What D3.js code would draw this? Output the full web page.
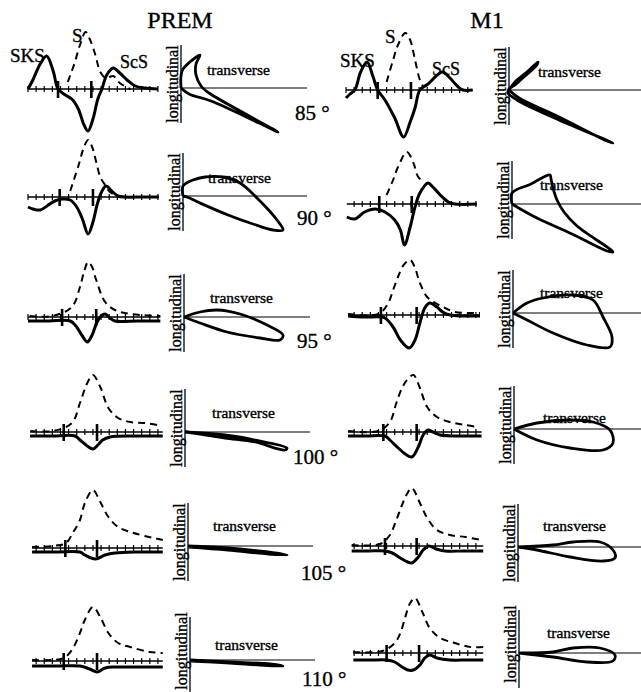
<!DOCTYPE html>
<html>
<head>
<meta charset="utf-8">
<script src="https://cdn.jsdelivr.net/npm/d3@7"></script>
<style>
body { margin: 0; background: #fff; }
text { font-family: "Liberation Serif", "Times New Roman", serif; fill: #000; stroke: #000; stroke-width: 0.35px; }
</style>
</head>
<body>
<div id="fig"></div>
<script>
// models, distances and phase names
const models = ["PREM", "M1"];
const distances = [85, 90, 95, 100, 105, 110];
const phaseLabels = ["SKS", "S", "ScS"];

// seismograms: [time (tick units), amplitude], one array per distance
const premLong = [
  [[0,0],[0.6,9],[1.5,25],[2.3,33],[3.1,18],[3.7,0],[4.6,-6],[5.4,-10],[6.2,-20],[6.9,-36],[7.4,-42],[8.0,-30],[8.6,-10],[9.1,0],[9.7,14],[10.5,21],[11.3,16],[12.2,9],[13.2,3],[14.4,1],[16,0]],
  [[0,-10],[0.6,-12],[1.5,-13],[2.5,-8],[3.3,-4],[4.2,-2],[5.2,-3],[6.0,-10],[6.7,-22],[7.4,-37],[8.0,-25],[8.5,-8],[9.0,4],[9.6,11],[10.3,6],[11.1,1],[11.9,0],[14,0],[16.1,0]],
  [[0,-4],[2.6,-4],[5.2,-4],[5.9,-9],[6.7,-19],[7.3,-25],[7.9,-18],[8.5,-5],[9.0,1],[9.5,3],[10.1,-1],[10.7,-4],[13.5,-4],[16.3,-4]],
  [[0.25,-4],[3,-4],[5.8,-4],[6.4,-8],[7.3,-14],[8.0,-17],[8.6,-13],[9.2,-8],[10.1,-5],[13,-4],[16.6,-4]],
  [[0.5,-4],[3.5,-4],[6.4,-4],[7.0,-7],[8.3,-11],[9.5,-7],[10.7,-5],[13.5,-4],[16.6,-4]],
  [[0.5,-5],[3.5,-5],[6.4,-5],[7.6,-8],[8.5,-11],[9.5,-7],[10.7,-6],[13.5,-6],[16.6,-6]]
];
const premTrans = [
  [[4.9,7],[5.7,25],[6.4,44],[7.1,57],[7.6,50],[8.3,34],[8.9,17],[9.6,11],[10.5,13],[11.3,6],[12.6,0]],
  [[5.2,6],[6.2,31],[6.9,50],[7.4,57],[7.9,50],[8.4,35],[8.9,20],[9.5,12],[10.1,5],[11.1,1],[13.5,0],[16.1,0]],
  [[0.2,1],[3,1],[5.4,10],[6.4,30],[6.9,45],[7.4,55],[7.9,50],[8.4,37],[9.5,15],[10.7,7],[11.9,4],[13.8,2],[16.3,1]],
  [[0.3,1],[3,1],[5.4,9],[6.4,29],[7.3,49],[8.0,57],[8.9,45],[9.9,24],[11.1,14],[12.6,10],[14.4,9],[15.9,7]],
  [[0.5,1],[3,2],[4.7,5],[5.5,15],[6.4,28],[7.0,45],[8.0,58],[8.9,46],[9.9,31],[11.1,21],[12.6,16],[14.4,12],[16.6,8]],
  [[0.5,1],[3,1],[4.4,3],[5.4,11],[6.4,28],[7.0,41],[8.0,54],[8.9,44],[9.9,28],[11.1,18],[12.6,14],[15.0,9],[16.6,8]]
];
const m1Long = [
  [[0,-8],[0.5,-4],[1.1,0],[1.8,18],[2.6,28],[3.3,14],[3.9,0],[4.8,-10],[6.0,-28],[7.1,-47],[7.9,-32],[8.5,-18],[9.1,0],[10.1,6],[11.1,14],[11.9,18],[12.8,12],[13.7,4],[14.4,0],[15.6,0]],
  [[0.1,-13],[1.1,-15],[2.3,-8],[3.6,-5],[4.8,-8],[6.0,-16],[6.7,-26],[7.2,-41],[7.9,-23],[8.5,-3],[9.1,11],[10.1,21],[10.7,17],[11.6,9],[12.6,2],[13.4,0],[16.1,0]],
  [[0.25,-1],[2.2,-2],[4.2,-2],[4.8,-3],[5.8,-12],[6.7,-25],[7.8,-33],[8.5,-25],[9.1,-8],[9.7,7],[10.3,12],[11.2,8],[11.9,3],[12.8,0],[14.5,-1],[16.5,-1]],
  [[0.25,-4],[2.5,-4],[4.8,-4],[5.4,-8],[6.3,-15],[7.3,-22],[8.1,-25],[8.9,-15],[9.5,-3],[10.1,2],[10.7,0],[11.6,-3],[14,-4],[16.7,-4]],
  [[0.7,-5],[2.8,-5],[4.8,-5],[5.7,-7],[6.7,-12],[7.6,-16],[8.1,-17],[8.9,-11],[9.5,-4],[10.2,0],[11.1,-3],[12.2,-5],[14.5,-5],[16.9,-5]],
  [[0.9,-7],[3,-7],[5.0,-7],[6.0,-9],[6.9,-14],[7.6,-17],[8.3,-17],[9.1,-12],[9.7,-5],[10.3,-2],[11.2,-5],[12.8,-7],[15,-7],[16.9,-7]]
];
const m1Trans = [
  [[5.0,8],[5.8,30],[6.4,45],[7.3,57],[7.9,50],[8.5,30],[9.1,10],[9.6,2]],
  [[5.0,9],[5.8,24],[6.4,37],[7.5,52],[8.3,41],[8.9,27],[9.6,22]],
  [[0.25,1],[4,1],[5.2,12],[5.8,25],[6.4,38],[7.1,50],[7.9,55],[8.5,47],[9.1,32],[10.0,18],[11.0,12],[12.2,7],[13.4,3],[16.5,2]],
  [[0.25,1],[4,1],[5.4,10],[6.2,29],[6.9,44],[7.6,53],[8.3,57],[9.1,44],[10.0,25],[11.2,15],[12.8,10],[14.7,7],[16.3,5]],
  [[0.7,1],[4.2,2],[5.4,11],[6.2,26],[6.9,41],[7.5,52],[8.1,58],[9.1,43],[10.0,28],[11.2,16],[12.8,11],[14.7,9],[16.7,6]],
  [[0.9,1],[4.5,2],[6.0,10],[6.7,20],[7.3,36],[7.9,50],[8.5,55],[9.4,41],[10.3,25],[11.6,15],[13.4,10],[15.3,6],[16.9,6]]
];

// arrival marks (big ticks) and time windows
const premSks = [3.7, 3.9, 4.2, 4.4, 4.6, 4.4];
const premS   = [7.8, 8.0, 8.4, 8.5, 8.5, 8.5];
const m1Sks   = [3.9, 4.1, 4.3, 4.6, 4.8, 5.0];
const m1S     = [8.0, 8.1, 8.7, 8.7, 8.7, 9.0];
const premWindow = [[0,16],[0,16.1],[0,16.3],[0.25,16.6],[0.5,16.6],[0.5,16.6]];
const m1Window   = [[0,15.6],[0.1,16.1],[0.25,16.5],[0.25,16.7],[0.7,16.9],[0.9,16.9]];

// particle motion: [transverse, longitudinal]
const premMotion = [
  [[0,0],[0,12],[2,19],[19,33],[15,24],[15,13],[20,2],[28,-5],[97,-44],[78,-35],[30,-13],[8,-6],[0,0]],
  [[0,0],[0,10],[10,16],[22,19],[40,19],[57,13],[77,-5],[94,-24],[100,-34],[90,-34],[70,-28],[45,-19],[17,-7],[4,-1],[0,0]],
  [[0,0],[16,5],[33,7],[56,3],[83,-8],[99,-18],[96,-23],[76,-21],[43,-15],[16,-6],[0,0]],
  [[0,0],[40,-3],[70,-8],[102,-16],[100,-18],[70,-10],[40,-6],[15,-2],[0,0]],
  [[0,0],[40,-2],[80,-6],[99,-9],[80,-8],[40,-4],[0,-1]],
  [[0,0],[40,-2],[80,-4],[93,-6],[70,-5],[40,-3],[0,-1]]
];
const m1Motion = [
  [[0,0],[6,8],[18,18],[29,28],[27,24],[16,14],[6,5],[0,1],[-1,-3],[8,-10],[50,-30],[104,-53],[98,-51],[50,-27],[10,-8],[0,0]],
  [[0,0],[0,11],[19,20],[38,29],[39,25],[41,16],[45,4],[52,-8],[65,-22],[101,-48],[95,-47],[60,-30],[25,-14],[5,-3],[0,0]],
  [[0,0],[14,10],[30,15],[60,18],[80,13],[90,-4],[99,-24],[97,-34],[74,-32],[40,-20],[14,-7],[0,0]],
  [[0,0],[23,6],[56,9],[79,7],[96,-1],[99,-14],[89,-21],[56,-19],[23,-11],[0,0]],
  [[0,0],[35,2],[55,5],[82,5],[95,-3],[97,-11],[85,-14],[52,-10],[19,-3],[0,0]],
  [[0,0],[34,1],[54,5],[81,5],[96,-2],[94,-8],[68,-9],[34,-4],[0,0]]
];

const width = 641, height = 692;
const svg = d3.select("#fig").append("svg")
  .attr("width", width).attr("height", height);

// layout of the two columns
const columns = [
  { name: models[0], long: premLong, trans: premTrans, sks: premSks, s: premS, win: premWindow, motion: premMotion,
    x0: 28, base: [89,197,317,432,548,661],
    pm: [[181,88],[183,196],[184,317],[185,432],[188,546],[190,660]], pmEnd: [307,307,310,310,313,315],
    tl: [[207,75],[208,183],[210,303],[212,418],[213,531],[215,650]],
    title: [180,28], phase: [[10,62],[72,42],[120,68]] },
  { name: models[1], long: m1Long, trans: m1Trans, sks: m1Sks, s: m1S, win: m1Window, motion: m1Motion,
    x0: 346, base: [90,204,315,432,546,653],
    pm: [[509,90],[512,204],[513,313],[514,429],[518,547],[519,653]], pmEnd: [641,641,641,641,641,641],
    tl: [[538,77],[540,190],[540,298],[543,423],[543,531],[547,638]],
    title: [487,28], phase: [[340,67],[385,43],[432,75]] }
];
const degPos = [[295,120],[297,225],[297,348],[293,464],[301,580],[302,686]];
const longShift = [-4, -4, -4, -4, -4, -9];

const lineSolid = d3.line().curve(d3.curveCatmullRom.alpha(0.5));

columns.forEach(col => {
  const x = d3.scaleLinear().domain([0, 16.5]).range([col.x0, col.x0 + 16.5 * 8.12]);

  svg.append("text").attr("x", col.title[0]).attr("y", col.title[1])
    .attr("text-anchor", "middle").style("font-size", "24px").text(col.name);

  phaseLabels.forEach((p, i) => {
    svg.append("text").attr("x", col.phase[i][0]).attr("y", col.phase[i][1])
      .style("font-size", i === 2 ? "18px" : "19px").text(p);
  });

  distances.forEach((d, r) => {
    const base = col.base[r];
    const y = d3.scaleLinear().domain([-60, 60]).range([base + 60, base - 60]);
    const g = svg.append("g");

    // time axis with ticks
    const [t0, t1] = col.win[r];
    g.append("line").attr("x1", x(t0)).attr("x2", x(t1)).attr("y1", base).attr("y2", base)
      .attr("stroke", "#000").attr("stroke-width", 1.3);
    g.selectAll(".tk").data(d3.range(Math.ceil(t0), Math.floor(t1) + 1)).join("line")
      .attr("x1", t => x(t)).attr("x2", t => x(t)).attr("y1", base - 3).attr("y2", base + 3)
      .attr("stroke", "#000").attr("stroke-width", 1.2);
    g.selectAll(".big").data([col.sks[r], col.s[r]]).join("line")
      .attr("x1", t => x(t)).attr("x2", t => x(t)).attr("y1", base - 8).attr("y2", base + 9)
      .attr("stroke", "#000").attr("stroke-width", 2.6);

    // transverse (dashed) and longitudinal (solid) traces
    const ln = lineSolid.x(p => x(p[0])).y(p => y(p[1]));
    g.append("path").attr("d", ln(col.trans[r])).attr("fill", "none")
      .attr("stroke", "#000").attr("stroke-width", 2).attr("stroke-dasharray", "7,5");
    g.append("path").attr("d", ln(col.long[r])).attr("fill", "none")
      .attr("stroke", "#000").attr("stroke-width", 3).attr("stroke-linejoin", "round");

    // particle motion panel
    const [ox, oy] = col.pm[r];
    const px = d3.scaleLinear().domain([0, 100]).range([ox, ox + 100]);
    const py = d3.scaleLinear().domain([-60, 60]).range([oy + 60, oy - 60]);
    g.append("line").attr("x1", ox).attr("x2", ox).attr("y1", oy - 43).attr("y2", oy + 35)
      .attr("stroke", "#000").attr("stroke-width", 1.3);
    g.append("line").attr("x1", ox).attr("x2", col.pmEnd[r]).attr("y1", oy).attr("y2", oy)
      .attr("stroke", "#000").attr("stroke-width", 1.2);
    g.append("text").attr("transform", `translate(${ox - 3},${oy + longShift[r]}) rotate(-90)`)
      .attr("text-anchor", "middle").style("font-size", "16px").text("longitudinal");
    g.append("text").attr("x", col.tl[r][0]).attr("y", col.tl[r][1])
      .style("font-size", "15.5px").text("transverse");
    const pl = d3.line().curve(d3.curveCatmullRom.alpha(0.5)).x(p => px(p[0])).y(p => py(p[1]));
    g.append("path").attr("d", pl(col.motion[r])).attr("fill", "none")
      .attr("stroke", "#000").attr("stroke-width", 2.8).attr("stroke-linejoin", "round");
  });
});

distances.forEach((d, r) => {
  svg.append("text").attr("x", degPos[r][0]).attr("y", degPos[r][1])
    .style("font-size", "21px").text(d + " °");
});
</script>
</body>
</html>
